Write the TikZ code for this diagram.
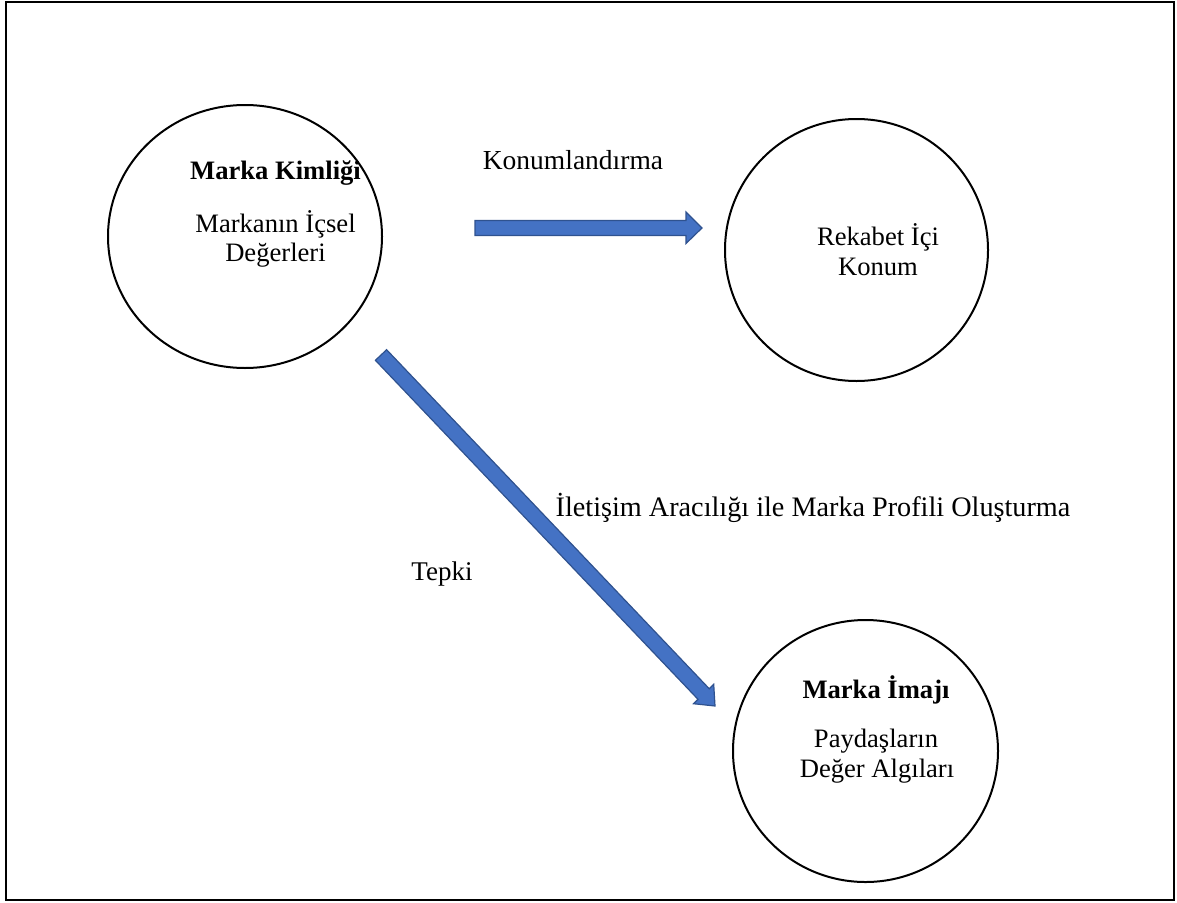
\documentclass[tikz,border=0pt]{standalone}
\usepackage{fontspec}
\setmainfont{Liberation Serif}
\usetikzlibrary{calc}
\definecolor{arrowfill}{HTML}{4472C4}
\definecolor{arrowline}{HTML}{2F528F}
\begin{document}
\begin{tikzpicture}[x=1pt,y=-1pt,
  lbl/.style={anchor=base,inner sep=0pt,font=\fontsize{26.6}{30}\selectfont},
  bold/.style={font=\fontsize{26.6}{30}\selectfont\bfseries},
  big/.style={font=\fontsize{28.2}{30}\selectfont},
  ring/.style={draw=black,line width=2pt},
  blk/.style={fill=arrowfill,draw=arrowline,line width=1.2pt,line join=miter}]
\useasboundingbox (0,0) rectangle (1177,902);
\draw[line width=2pt] (6,2) rectangle (1174,900);

% circles
\draw[ring] (245,236.5) ellipse [x radius=137, y radius=131.5];
\draw[ring] (856.5,250) ellipse [x radius=131.5, y radius=131];
\draw[ring] (865.5,751) ellipse [x radius=132.5, y radius=131];

% texts of the left circle
\node[lbl,bold] (t1) at (275.5,179) {Marka Kimliği};
\node[lbl] (t2) at (275.5,232) {Markanın İçsel};
\node[lbl] (t3) at (275.5,261) {Değerleri};

% texts of the upper right circle
\node[lbl] (t4) at (878,245) {Rekabet İçi};
\node[lbl] (t5) at (878,275) {Konum};

% texts of the lower right circle
\node[lbl,bold] (t6) at (876,698) {Marka İmajı};
\node[lbl] (t7) at (876,747) {Paydaşların};
\node[lbl] (t8) at (877,777) {Değer Algıları};

% arrow labels
\node[lbl,font=\fontsize{27.5}{30}\selectfont] (l1) at (573,169) {Konumlandırma};
\node[lbl,big] (l2) at (813,516) {İletişim Aracılığı ile Marka Profili Oluşturma};
\node[lbl,font=\fontsize{27}{30}\selectfont] (l3) at (442,580) {Tepki};

% horizontal block arrow
\draw[blk] (475,220.5) -- (686,220.5) -- (686,212) -- (702,228) -- (686,243.5)
  -- (686,235.5) -- (475,235.5) -- cycle;

% diagonal block arrow
\draw[blk] (375.4,360.3) -- (698.0,699.3) -- (693.5,703.7) -- (715,706)
  -- (713.7,684.3) -- (709.2,688.7) -- (386.6,349.7) -- cycle;
\end{tikzpicture}
\end{document}
